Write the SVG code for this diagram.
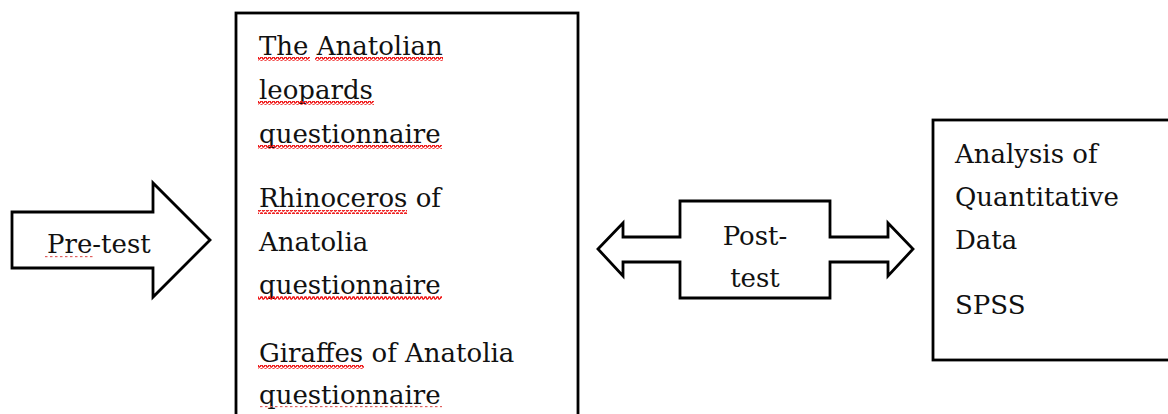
<svg xmlns="http://www.w3.org/2000/svg" width="1168" height="414" viewBox="0 0 1168 414">
<style>
.t{font-family:"DejaVu Serif","Liberation Serif",serif;font-size:26px;fill:#111}
.sh{fill:#fff;stroke:#000;stroke-width:2.8;stroke-linejoin:miter}
.wv{fill:url(#wave)}
.dt{fill:url(#dots)}
</style>
<defs>
<pattern id="wave" patternUnits="userSpaceOnUse" width="4" height="4">
<path d="M0 3 L1 1 L2 1 L3 3 L4 3" fill="none" stroke="#ee1111" stroke-width="1.4"/>
</pattern>
<pattern id="dots" patternUnits="userSpaceOnUse" width="5" height="3">
<rect x="0" y="1" width="2.5" height="1.2" fill="#e06060"/>
</pattern>
</defs>
<rect width="1168" height="414" fill="#fff"/>
<g id="connectors">
<g id="pretest">
<polygon class="sh" points="12,212 153,212 153,183 210,240 153,297 153,268 12,268"/>
<text class="t" x="47" y="253">Pre-test</text>
<rect class="dt" x="45" y="256" width="48" height="3"/>
</g>
<g id="posttest">
<polygon class="sh" points="598,249 623,223 623,237 680,237 680,201 830,201 830,237 888,237 888,223 913,249 888,276 888,262 830,262 830,298 680,298 680,262 623,262 623,276"/>
<text class="t" x="755" y="245" text-anchor="middle">Post-</text>
<text class="t" x="755" y="287" text-anchor="middle">test</text>
</g>
</g>
<g id="questionnaires">
<rect class="sh" x="236" y="13" width="342" height="420"/>
<text class="t" x="259" y="55">The Anatolian</text>
<text class="t" x="259" y="99">leopards</text>
<text class="t" x="259" y="143">questionnaire</text>
<text class="t" x="259" y="207">Rhinoceros of</text>
<text class="t" x="259" y="251">Anatolia</text>
<text class="t" x="259" y="294">questionnaire</text>
<text class="t" x="259" y="362">Giraffes of Anatolia</text>
<text class="t" x="259" y="404">questionnaire</text>
<rect class="wv" x="258" y="57" width="52" height="4"/>
<rect class="wv" x="315" y="57" width="128" height="4"/>
<rect class="wv" x="258" y="101" width="116" height="4"/>
<rect class="wv" x="258" y="145" width="184" height="4"/>
<rect class="wv" x="258" y="210" width="149" height="4"/>
<rect class="wv" x="258" y="296" width="184" height="4"/>
<rect class="wv" x="258" y="365" width="106" height="4"/>
<rect class="dt" x="258" y="406" width="184" height="3"/>
</g>
<g id="analysis">
<rect class="sh" x="933" y="120" width="260" height="240"/>
<text class="t" x="955" y="163">Analysis of</text>
<text class="t" x="955" y="206">Quantitative</text>
<text class="t" x="955" y="249">Data</text>
<text class="t" x="955" y="314">SPSS</text>
</g>
</svg>
